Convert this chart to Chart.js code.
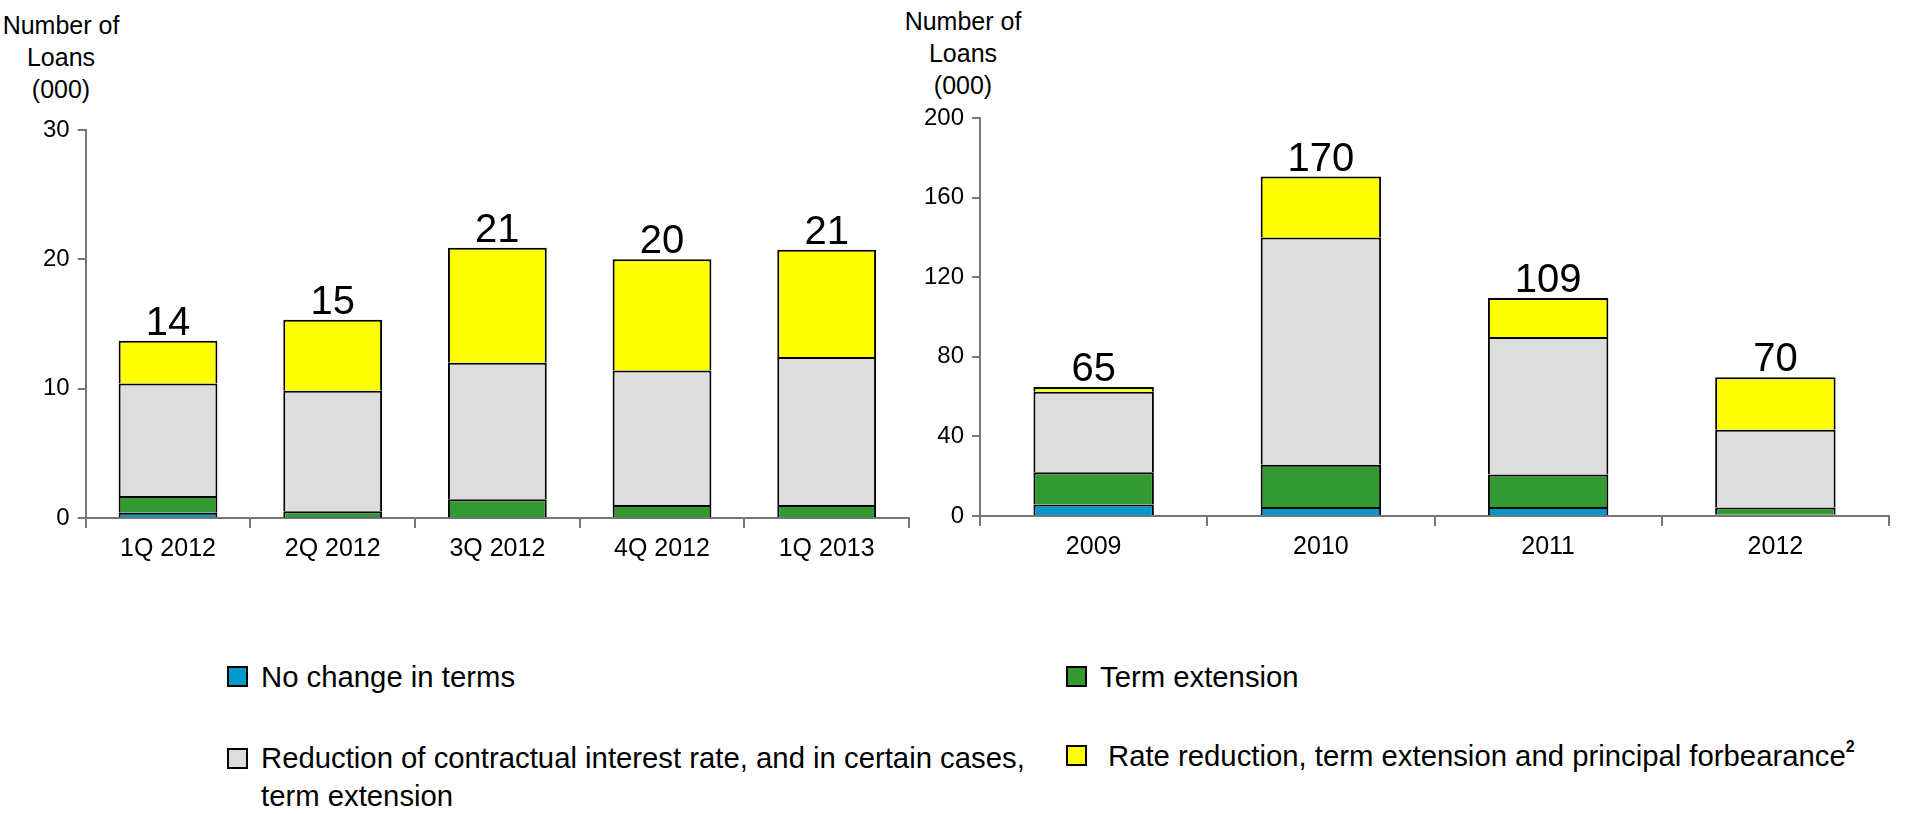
<!DOCTYPE html>
<html>
<head>
<meta charset="utf-8">
<script src="https://cdn.jsdelivr.net/npm/chart.js@4.4.0/dist/chart.umd.min.js"></script>
<style>
  body { margin: 0; background: #fff; width: 1905px; height: 814px; position: relative; overflow: hidden;
         font-family: "Liberation Sans", Arial, sans-serif; color: #000; }
  .box { position: absolute; }
  .ytitle { position: absolute; text-align: center; font-size: 25px; line-height: 32px; width: 140px; }
  .leg { position: absolute; font-size: 29.3px; line-height: 38px; white-space: nowrap; }
  .sw { position: absolute; width: 17px; height: 17px; border: 2px solid #000; }
  sup { font-size: 16px; font-weight: bold; vertical-align: 14px; line-height: 0; }
</style>
</head>
<body>
<div class="ytitle" style="left:-9px; top:9px;">Number of<br>Loans<br>(000)</div>
<div class="ytitle" style="left:893px; top:5px;">Number of<br>Loans<br>(000)</div>

<div class="box" style="left:0; top:0; width:935px; height:580px;"><canvas id="quarterChart"></canvas></div>
<div class="box" style="left:900px; top:0; width:1005px; height:580px;"><canvas id="yearChart"></canvas></div>

<div class="sw" style="left:227px; top:666px; background:#0099CC;"></div>
<div class="leg" style="left:261px; top:658px;">No change in terms</div>
<div class="sw" style="left:1066px; top:666px; background:#339933;"></div>
<div class="leg" style="left:1100px; top:658px;">Term extension</div>
<div class="sw" style="left:227px; top:748px; background:#DDDDDD;"></div>
<div class="leg" style="left:261px; top:739px;">Reduction of contractual interest rate, and in certain cases,<br>term extension</div>
<div class="sw" style="left:1066px; top:745px; background:#FFFF00;"></div>
<div class="leg" style="left:1108px; top:737px;">Rate reduction, term extension and principal forbearance<sup>2</sup></div>

<script>
var quarters = ["1Q 2012", "2Q 2012", "3Q 2012", "4Q 2012", "1Q 2013"]
var qNoChange = [0.4, 0.03, 0.05, 0.05, 0.05]
var qTermExt = [1.3, 0.5, 1.4, 0.95, 0.95]
var qRateReduction = [8.7, 9.3, 10.55, 10.4, 11.45]
var qForbearance = [3.3, 5.5, 8.9, 8.6, 8.3]
var qTotals = [14, 15, 21, 20, 21]

var years = ["2009", "2010", "2011", "2012"]
var yNoChange = [5.8, 4.5, 4.5, 0.6]
var yTermExt = [16.2, 21.2, 16.3, 3.7]
var yRateReduction = [40.4, 114.3, 69.2, 39.1]
var yForbearance = [2.4, 30.6, 19.5, 26.3]
var yTotals = [65, 170, 109, 70]

var FONT = "'Liberation Sans', Arial, sans-serif"

// writes the total above each stacked bar
var totalsPlugin = {
    id: 'totals',
    afterDatasetsDraw: function (chart, args, opts) {
        var ctx = chart.ctx
        var yScale = chart.scales.y
        var meta = chart.getDatasetMeta(chart.data.datasets.length - 1)
        ctx.save()
        ctx.font = "40px " + FONT
        ctx.fillStyle = "#000"
        ctx.textAlign = "center"
        ctx.textBaseline = "alphabetic"
        meta.data.forEach(function (bar, i) {
            var sum = 0
            chart.data.datasets.forEach(function (ds) { sum += ds.data[i] })
            ctx.fillText(opts.labels[i], bar.x, yScale.getPixelForValue(sum) - 6)
        })
        ctx.restore()
    }
}

function makeDatasets(a, b, c, d, barPct) {
    return [
        { label: "No change in terms", data: a, backgroundColor: "#0099CC" },
        { label: "Term extension", data: b, backgroundColor: "#339933" },
        { label: "Reduction of contractual interest rate", data: c, backgroundColor: "#DDDDDD" },
        { label: "Rate reduction, term extension and principal forbearance", data: d, backgroundColor: "#FFFF00" }
    ].map(function (ds) {
        ds.borderColor = "#000"
        ds.borderWidth = 2
        ds.categoryPercentage = 1
        ds.barPercentage = barPct
        return ds
    })
}

function makeChart(id, labels, datasets, totals, max, step, padding) {
    return new Chart(id, {
        type: 'bar',
        data: { labels: labels, datasets: datasets },
        plugins: [totalsPlugin],
        options: {
            responsive: true,
            maintainAspectRatio: false,
            animation: false,
            layout: { padding: padding },
            plugins: {
                legend: { display: false },
                tooltip: { enabled: false },
                totals: { labels: totals }
            },
            scales: {
                x: {
                    stacked: true,
                    border: { color: "#777", width: 2 },
                    grid: { offset: true, drawOnChartArea: false, color: "#777", lineWidth: 2, tickLength: 10 },
                    ticks: { color: "#000", font: { family: FONT, size: 25 }, padding: 6 }
                },
                y: {
                    stacked: true,
                    min: 0, max: max,
                    border: { color: "#777", width: 2 },
                    grid: { drawOnChartArea: false, color: "#777", lineWidth: 2, tickLength: 8 },
                    ticks: { stepSize: step, color: "#000", font: { family: FONT, size: 24 }, padding: 8 }
                }
            }
        }
    })
}

makeChart("quarterChart", quarters, makeDatasets(qNoChange, qTermExt, qRateReduction, qForbearance, 0.6), qTotals, 30, 10,
    { top: 130, left: 35, right: 26, bottom: 10 })
makeChart("yearChart", years, makeDatasets(yNoChange, yTermExt, yRateReduction, yForbearance, 0.53), yTotals, 200, 40,
    { top: 118, left: 16, right: 16, bottom: 12 })
</script>
</body>
</html>
